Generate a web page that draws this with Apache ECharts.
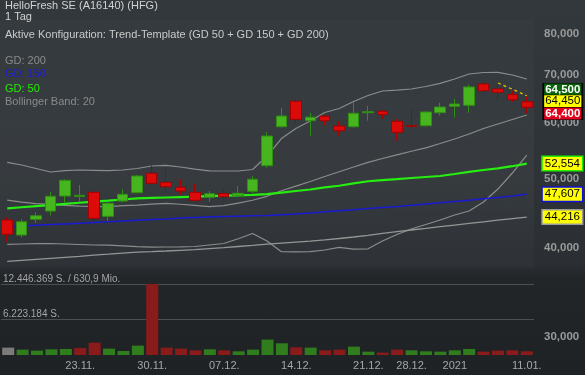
<!DOCTYPE html>
<html>
<head>
<meta charset="utf-8">
<script src="https://cdn.jsdelivr.net/npm/echarts@6/dist/echarts.min.js"></script>
<style>
html,body{margin:0;padding:0;}
body{width:585px;height:375px;background:linear-gradient(to bottom,#32383c 0%,#2f3438 40%,#2b2f33 70%,#232629 74%,#1f2225 100%);}
#c{width:585px;height:375px;}
</style>
</head>
<body>
<div id="c"></div>
<script>
// ---- data ----
const dates = ['16.11.','17.11.','18.11.','19.11.','20.11.','23.11.','24.11.','25.11.','26.11.','27.11.',
  '30.11.','01.12.','02.12.','03.12.','04.12.','07.12.','08.12.','09.12.','10.12.','11.12.',
  '14.12.','15.12.','16.12.','17.12.','18.12.','21.12.','22.12.','23.12.','28.12.','29.12.',
  '30.12.','04.01.','05.01.','06.01.','07.01.','08.01.','11.01.'];
const tickDates  = ['23.11.','30.11.','07.12.','14.12.','21.12.','28.12.','04.01.','11.01.'];
const tickLabels = ['23.11.','30.11.','07.12.','14.12.','21.12.','28.12.','2021','11.01.'];
const priceTicks = [30000,40000,50000,60000,70000,80000];

const openP  = [43790,41720,43890,45080,47320,47250,47890,44320,46560,47830,50930,49460,48670,47890,47130,47680,47370,48050,52190,59200,64280,60360,61240,59330,59200,61940,62220,60240,59390,59390,61940,63230,63440,67960,66870,65650,64180];
const closeP = [41820,43550,44400,47280,49780,47430,44030,46220,47590,50480,49300,48770,48100,46670,47680,47220,47740,49950,57450,61280,60630,61050,60360,58440,61820,62140,61580,58140,59240,62080,63090,63700,67300,66500,66160,64600,63030];
const lowP   = [40830,41400,43410,44460,46300,46410,43550,43690,46370,47740,48910,47990,47480,46560,46460,46610,47220,47740,51860,59010,59970,57500,59460,57500,59010,60360,60730,56580,58700,59200,61340,61030,61940,65950,64390,64180,61820];
const highP  = [44180,43890,44900,47940,49950,49030,48250,46460,48360,50650,52230,51810,49960,49190,48100,48400,48880,50480,58190,62890,64530,61880,61420,60240,64120,63330,62480,60690,62950,62280,63970,64740,67800,68550,68400,66440,65230];

const volume = [1291600,939300,763200,998100,1056800,1232900,2172200,1115500,704500,1643900,12446369,1291600,1115500,821900,998100,821900,645800,939300,2700600,2054800,1350300,1291600,821900,939300,1467700,587100,411000,939300,821900,645800,587100,821900,1056800,587100,763200,821900,645800];
const volMax = 12446369;
const volMaxTurnover = '630,9 Mio.';

const gd50  = [45475,45636,45800,45961,46125,46304,46469,46619,46792,46958,47034,47095,47156,47217,47293,47369,47431,47492,47600,47846,48094,48324,48668,48921,49302,49637,49830,49979,50157,50319,50482,50809,51171,51470,51736,52106,52554];
const gd150 = [42852,42949,43046,43144,43242,43339,43438,43536,43649,43748,43849,43948,44062,44162,44219,44276,44333,44391,44448,44548,44649,44808,44968,45128,45284,45445,45607,45754,45932,46125,46304,46499,46695,46898,47095,47339,47607];
const gd200 = [38319,38443,38573,38698,38823,38949,39088,39214,39353,39481,39545,39622,39711,39796,39925,40054,40197,40340,40497,40628,40759,40891,41065,41251,41452,41680,41937,42181,42400,42617,42852,43088,43312,43536,43762,43991,44216];
const bbUpper  = [52766,52308,51720,51139,51354,51470,51420,51354,51470,51720,52139,52257,51971,51603,51337,51304,51304,51553,53846,56983,58851,60295,61978,62782,64218,65476,66435,66607,66867,67410,68110,69062,70187,70528,70574,69960,69062];
const bbMiddle = [46710,46409,46185,46065,45917,45813,45769,45739,45887,45961,46110,46215,46080,45917,45725,45887,46260,46680,47278,48126,48858,49589,50400,51188,51971,52766,53413,54055,54688,55299,56073,56891,57818,58851,59713,60592,61478];
const bbLower  = [40484,40523,40562,40589,40523,40457,40392,40366,40288,40171,40106,40132,40158,40197,40392,40589,41212,41923,40917,39532,39519,39532,39750,40093,39848,39899,40917,41788,42535,43158,43790,44505,45084,46409,48402,50974,54020];

const trendStartDate = '07.01.';
const trendVals = [68180,66820,65430];

const quoteVals = [64500,64450,64400];

// ---- build ----
const FONT = "'Liberation Sans', Arial, sans-serif";
const fmt = v => Math.round(v).toLocaleString('en-US');
const fmtDE = v => Math.floor(v).toLocaleString('de-DE');

const candleData = dates.map((d,i)=>[openP[i],closeP[i],lowP[i],highP[i]]);
const volData = volume.map((v,i)=>({
  value: v,
  itemStyle: {color: i===0 ? '#7b7b7b' : (closeP[i] >= closeP[i-1] ? '#2f7d1d' : '#8a1b1b')}
}));
const tStart = dates.indexOf(trendStartDate);
const trendData = dates.map((d,i)=> (i>=tStart ? trendVals[i-tStart] : null));

const lastDate = dates[dates.length-1];
const quoteStyle = [
  {bg:'#0b640b', fg:'#ffffff', fw:'bold', dy:-10.6},
  {bg:'#ffff00', fg:'#000000', fw:'normal', dy:0.9},
  {bg:'#e2001c', fg:'#ffffff', fw:'bold', dy:12.8}
];

function lineSeries(name, data, color, width, opts) {
  return Object.assign({
    name, type:'line', data, xAxisIndex:0, yAxisIndex:0,
    showSymbol:false, symbol:'none', smooth:false, z:2, silent:true,
    lineStyle:{color, width}
  }, opts || {});
}
function endLbl(border) {
  return {
    show:true, distance:16, formatter: p => fmt(p.value),
    backgroundColor:'#ffff00', borderColor:border, borderWidth:1.5,
    padding:[1,2,0,2], color:'#000', fontSize:11.5, fontFamily:FONT
  };
}

const titles = [
  ['HelloFresh SE (A16140) (HFG)', 0.7, '#d2d2d2'],
  ['1 Tag', 11.5, '#d2d2d2'],
  ['Aktive Konfiguration: Trend-Template (GD 50 + GD 150 + GD 200)', 29.7, '#cacaca'],
  ['GD: 200', 55.3, '#8a8a8a'],
  ['GD: 150', 68.8, '#1f1fc8'],
  ['GD: 50', 83, '#22ee00'],
  ['Bollinger Band: 20', 96.4, '#8a8a8a']
].map(t => ({text:t[0], left:5, top:t[1], padding:0,
  textStyle:{fontSize:11, fontWeight:'normal', color:t[2], fontFamily:FONT}}));

const chart = echarts.init(document.getElementById('c'), null, {renderer:'canvas'});
chart.setOption({
  animation:false,
  backgroundColor:'transparent',
  title: titles,
  grid: [
    {left:0, top:20, width:534, height:335, show:true, borderWidth:0,
     backgroundColor:{type:'linear',x:0,y:0,x2:0,y2:1,colorStops:[
       {offset:0,color:'rgba(255,255,255,0.015)'},{offset:0.45,color:'rgba(255,255,255,0.045)'},
       {offset:0.74,color:'rgba(255,255,255,0.02)'},{offset:0.745,color:'rgba(255,255,255,0)'},
       {offset:1,color:'rgba(255,255,255,0)'}]}},
    {left:0, top:284, width:534, height:71}
  ],
  xAxis: [
    {type:'category', gridIndex:0, data:dates, show:false},
    {type:'category', gridIndex:1, data:dates,
     axisLine:{show:false}, axisTick:{show:false}, splitLine:{show:false},
     axisLabel:{interval:(idx,val)=>tickDates.indexOf(val)>=0,
       formatter:val=>tickLabels[tickDates.indexOf(val)],
       color:'#a6a6a6', fontSize:11, margin:5.5, fontFamily:FONT}}
  ],
  yAxis: [
    {type:'log', logBase:10, gridIndex:0, position:'right', min:28312, max:83570,
     axisLine:{show:false}, axisTick:{show:false}, splitLine:{show:false},
     axisLabel:{customValues:priceTicks, formatter:v=>fmt(v), color:'#9a9a9a',
       fontWeight:'bold', fontSize:11.5, margin:10, fontFamily:FONT}},
    {type:'value', gridIndex:1, position:'left', min:0, max:volMax, interval:volMax/2,
     axisLine:{show:false}, axisTick:{show:false},
     splitLine:{show:true, lineStyle:{color:['rgba(0,0,0,0)','#4a4f53','#4a4f53'], width:1}},
     axisLabel:{inside:true, margin:2, verticalAlign:'bottom', showMinLabel:false, showMaxLabel:true,
       color:'#a4a4a4', fontSize:10, fontFamily:FONT,
       formatter:v=> v<=0 ? '' : (v>=volMax ? fmtDE(v)+' S. / '+volMaxTurnover : fmtDE(v)+' S.')}}
  ],
  series: [
    lineSeries('BB oben', bbUpper, '#8c8c8c', 1.2),
    lineSeries('BB Mitte', bbMiddle, '#8c8c8c', 1.2),
    lineSeries('BB unten', bbLower, '#8c8c8c', 1.2),
    lineSeries('GD 200', gd200, '#959595', 1.3, {endLabel:endLbl('#9a9a9a')}),
    lineSeries('GD 150', gd150, '#1a1ad2', 1.5, {endLabel:endLbl('#1010e0')}),
    lineSeries('GD 50', gd50, '#26ee10', 2.2, {endLabel:endLbl('#22ee00')}),
    {
      name:'HFG', type:'candlestick', xAxisIndex:0, yAxisIndex:0, data:candleData, barWidth:11, z:3,
      silent:true,
      itemStyle:{color:'#47b51d', color0:'#dd0a0a', borderColor:'#2f8f12', borderColor0:'#a80000', borderWidth:1},
      markPoint:{
        silent:true, symbol:'rect', symbolSize:[39,12.5],
        data: quoteVals.map((q,k)=>({
          coord:[lastDate, q], symbolOffset:[36, quoteStyle[k].dy],
          itemStyle:{color:quoteStyle[k].bg, borderColor:'#000', borderWidth:1},
          label:{show:true, position:'inside', formatter:fmt(q), color:quoteStyle[k].fg,
            fontWeight:quoteStyle[k].fw, fontSize:11.5, fontFamily:FONT}
        }))
      }
    },
    lineSeries('Trend', trendData, '#e5c100', 1.3, {z:4, lineStyle:{color:'#e5c100', width:1.3, type:[3,3]}}),
    {
      name:'Volumen', type:'bar', xAxisIndex:1, yAxisIndex:1, data:volData, barWidth:12, silent:true
    }
  ]
});
</script>
</body>
</html>
